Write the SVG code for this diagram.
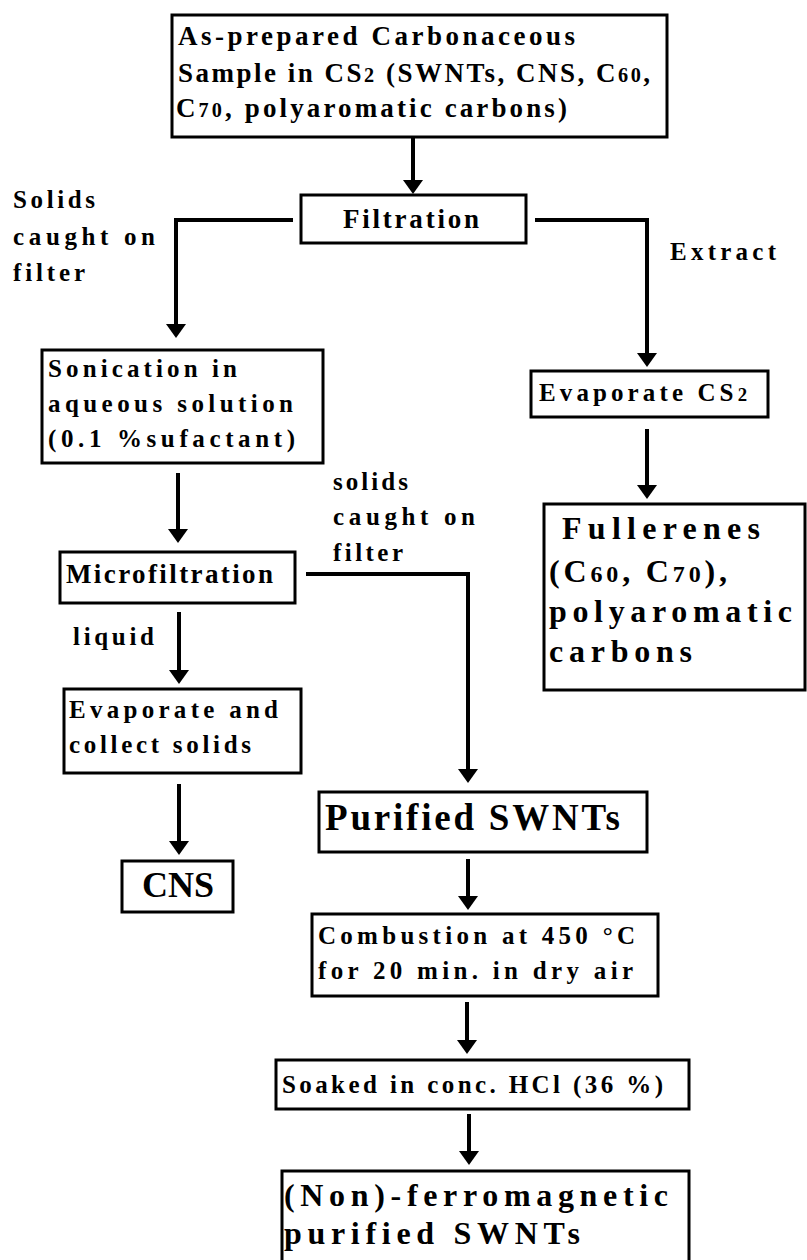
<svg xmlns="http://www.w3.org/2000/svg" width="807" height="1260" viewBox="0 0 807 1260">
<style>
  .box { fill: #fff; stroke: #000; stroke-width: 3; }
  .t { font-family: "Liberation Serif", "Times New Roman", serif; font-weight: bold; fill: #000; }
  .s22 { font-size: 25px; }
  .s24 { font-size: 27px; }
  .s29 { font-size: 32px; }
  .s33 { font-size: 37px; }
  .sub { font-size: 0.75em; }
  .conn { fill: none; stroke: #000; stroke-width: 4; }
</style>
<defs>
  <marker id="ah" viewBox="0 -10 14 20" refX="2" refY="0" markerWidth="14" markerHeight="20" markerUnits="userSpaceOnUse" orient="auto">
    <path d="M0,-10 L14,0 L0,10 Z" fill="#000"/>
  </marker>
</defs>
<rect width="807" height="1260" fill="#fff"/>

<g id="connectors">
  <path class="conn" d="M413,137 V182" marker-end="url(#ah)"/>
  <path class="conn" d="M293,220 H176 V326" marker-end="url(#ah)"/>
  <path class="conn" d="M535,220 H647 V355" marker-end="url(#ah)"/>
  <path class="conn" d="M178,473 V531" marker-end="url(#ah)"/>
  <path class="conn" d="M647,429 V487" marker-end="url(#ah)"/>
  <path class="conn" d="M306,574 H468 V771" marker-end="url(#ah)"/>
  <path class="conn" d="M179,612 V672" marker-end="url(#ah)"/>
  <path class="conn" d="M179,784 V843" marker-end="url(#ah)"/>
  <path class="conn" d="M468,859 V898" marker-end="url(#ah)"/>
  <path class="conn" d="M467,1002 V1042" marker-end="url(#ah)"/>
  <path class="conn" d="M469,1114 V1153" marker-end="url(#ah)"/>
</g>

<g id="labels">
  <text class="t s22" x="13" y="208" textLength="82" lengthAdjust="spacing">Solids</text>
  <text class="t s22" x="13" y="245" textLength="142" lengthAdjust="spacing">caught on</text>
  <text class="t s22" x="13" y="281" textLength="72" lengthAdjust="spacing">filter</text>
  <text class="t s22" x="670" y="260" textLength="106" lengthAdjust="spacing">Extract</text>
  <text class="t s22" x="333" y="490" textLength="75" lengthAdjust="spacing">solids</text>
  <text class="t s22" x="333" y="525" textLength="142" lengthAdjust="spacing">caught on</text>
  <text class="t s22" x="333" y="561" textLength="70" lengthAdjust="spacing">filter</text>
  <text class="t s22" x="73" y="645" textLength="81" lengthAdjust="spacing">liquid</text>
</g>

<g id="n-start">
  <rect class="box" x="172" y="15" width="495" height="122"/>
  <text class="t s24" x="178" y="45" textLength="397" lengthAdjust="spacing">As-prepared Carbonaceous</text>
  <text class="t s24" x="178" y="82" textLength="472" lengthAdjust="spacing">Sample in CS<tspan class="sub">2</tspan> (SWNTs, CNS, C<tspan class="sub">60</tspan>,</text>
  <text class="t s24" x="176" y="117" textLength="391" lengthAdjust="spacing">C<tspan class="sub">70</tspan>, polyaromatic carbons)</text>
</g>

<g id="n-filtration">
  <rect class="box" x="301" y="195" width="225" height="48"/>
  <text class="t s24" x="343" y="228" textLength="136" lengthAdjust="spacing">Filtration</text>
</g>

<g id="n-sonication">
  <rect class="box" x="42" y="350" width="281" height="113"/>
  <text class="t s22" x="48" y="377" textLength="189" lengthAdjust="spacing">Sonication in</text>
  <text class="t s22" x="48" y="412" textLength="245" lengthAdjust="spacing">aqueous solution</text>
  <text class="t s22" x="48" y="447" textLength="247" lengthAdjust="spacing">(0.1 %sufactant)</text>
</g>

<g id="n-evapcs2">
  <rect class="box" x="531" y="371" width="237" height="46"/>
  <text class="t s22" x="539" y="401" textLength="208" lengthAdjust="spacing">Evaporate CS<tspan class="sub">2</tspan></text>
</g>

<g id="n-fullerenes">
  <rect class="box" x="544" y="504" width="261" height="186"/>
  <text class="t s29" x="562" y="539" textLength="198" lengthAdjust="spacing">Fullerenes</text>
  <text class="t s29" x="549" y="582" textLength="178" lengthAdjust="spacing">(C<tspan class="sub">60</tspan>, C<tspan class="sub">70</tspan>),</text>
  <text class="t s29" x="549" y="622" textLength="243" lengthAdjust="spacing">polyaromatic</text>
  <text class="t s29" x="549" y="662" textLength="143" lengthAdjust="spacing">carbons</text>
</g>

<g id="n-microfiltration">
  <rect class="box" x="60" y="552" width="235" height="51"/>
  <text class="t s24" x="66" y="583" textLength="207" lengthAdjust="spacing">Microfiltration</text>
</g>

<g id="n-evapcollect">
  <rect class="box" x="64" y="689" width="237" height="84"/>
  <text class="t s22" x="69" y="718" textLength="209" lengthAdjust="spacing">Evaporate and</text>
  <text class="t s22" x="69" y="753" textLength="182" lengthAdjust="spacing">collect solids</text>
</g>

<g id="n-cns">
  <rect class="box" x="122" y="861" width="111" height="51"/>
  <text class="t" style="font-size:36px" x="178" y="897" text-anchor="middle">CNS</text>
</g>

<g id="n-purified">
  <rect class="box" x="319" y="792" width="328" height="60"/>
  <text class="t s33" x="325" y="830" textLength="295" lengthAdjust="spacing">Purified SWNTs</text>
</g>

<g id="n-combustion">
  <rect class="box" x="312" y="914" width="346" height="82"/>
  <text class="t s22" x="318" y="944" textLength="317" lengthAdjust="spacing">Combustion at 450 °C</text>
  <text class="t s22" x="318" y="979" textLength="315" lengthAdjust="spacing">for 20 min. in dry air</text>
</g>

<g id="n-soaked">
  <rect class="box" x="276" y="1060" width="413" height="49"/>
  <text class="t s22" x="282" y="1093" textLength="381" lengthAdjust="spacing">Soaked in conc. HCl (36 %)</text>
</g>

<g id="n-final">
  <rect class="box" x="282" y="1171" width="407" height="110"/>
  <text class="t s29" x="284" y="1206" textLength="384" lengthAdjust="spacing">(Non)-ferromagnetic</text>
  <text class="t s29" x="284" y="1244" textLength="296" lengthAdjust="spacing">purified SWNTs</text>
</g>
</svg>
